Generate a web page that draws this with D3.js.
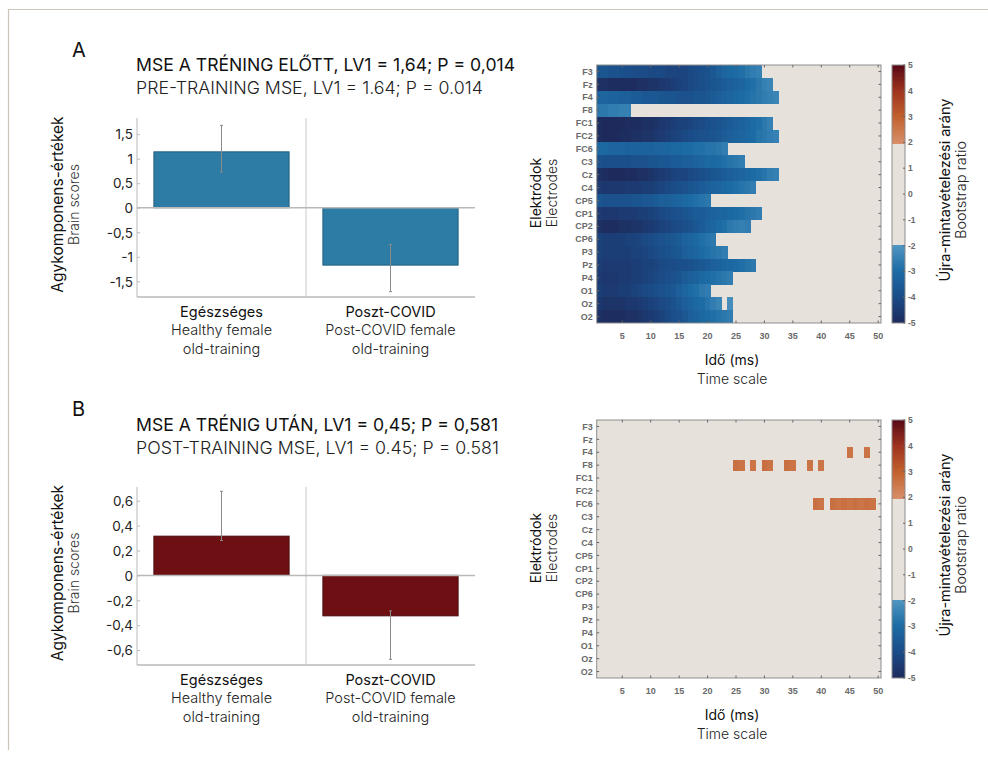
<!DOCTYPE html>
<html><head><meta charset="utf-8">
<script src="https://cdn.jsdelivr.net/npm/d3@7"></script>
<style>
body{margin:0;background:#fff;}
svg{display:block;font-family:Inter,"Noto Sans",sans-serif;}
</style></head>
<body><svg id="c" width="988" height="758"></svg>
<script>
// ---------- DATA ----------
const groupsHu = ["Egészséges", "Poszt-COVID"];
const groupsEn = ["Healthy female", "Post-COVID female"];
const groupsEn2 = ["old-training", "old-training"];

const preScores = [1.14, -1.17];
const preErrHigh = [1.68, -0.75];
const preErrLow = [0.73, -1.71];
const preTicks = [-1.5, -1, -0.5, 0, 0.5, 1, 1.5];

const postScores = [0.315, -0.325];
const postErrHigh = [0.675, -0.285];
const postErrLow = [0.28, -0.675];
const postTicks = [-0.6, -0.4, -0.2, 0, 0.2, 0.4, 0.6];

const electrodes = ["F3","Fz","F4","F8","FC1","FC2","FC6","C3","Cz","C4","CP5","CP1","CP2","CP6","P3","Pz","P4","O1","Oz","O2"];
const timeScales = d3.range(1, 51);
const timeTicks = [5,10,15,20,25,30,35,40,45,50];
const cbarTicks = [5,4,3,2,1,0,-1,-2,-3,-4,-5];

// bootstrap ratios before training, per electrode, scales 1..n (0 = not reliable)
const preRatios = [
 [-3.7,-3.7,-3.8,-3.8,-3.9,-3.9,-4.0,-4.0,-4.0,-4.1,-4.1,-4.1,-4.2,-4.2,-4.2,-4.2,-4.1,-4.0,-3.9,-3.8,-3.6,-3.4,-3.2,-3.1,-3.0,-2.9,-2.7,-2.6,-2.5],
 [-4.8,-4.8,-4.9,-4.9,-4.9,-4.9,-4.9,-4.8,-4.8,-4.7,-4.7,-4.6,-4.5,-4.4,-4.3,-4.2,-4.1,-4.0,-3.9,-3.8,-3.7,-3.6,-3.5,-3.4,-3.3,-3.2,-3.0,-2.9,-2.7,-2.5,-2.4],
 [-3.2,-3.2,-3.3,-3.3,-3.4,-3.4,-3.5,-3.5,-3.6,-3.6,-3.6,-3.7,-3.7,-3.7,-3.8,-3.8,-3.8,-3.7,-3.7,-3.6,-3.5,-3.4,-3.3,-3.2,-3.1,-3.0,-2.9,-2.8,-2.7,-2.6,-2.5,-2.4],
 [-2.7,-2.7,-2.6,-2.6,-2.5,-2.5],
 [-4.9,-5.0,-5.0,-5.0,-5.0,-4.9,-4.9,-4.9,-4.8,-4.8,-4.7,-4.6,-4.5,-4.4,-4.3,-4.3,-4.2,-4.1,-4.0,-3.9,-3.8,-3.7,-3.6,-3.5,-3.4,-3.3,-3.2,-3.0,-2.9,-2.7,-2.5],
 [-4.9,-5.0,-5.0,-5.0,-4.9,-4.9,-4.8,-4.8,-4.7,-4.7,-4.6,-4.5,-4.4,-4.3,-4.2,-4.1,-4.0,-3.9,-3.8,-3.8,-3.7,-3.6,-3.5,-3.4,-3.3,-3.2,-3.1,-3.0,-2.8,-2.7,-2.6,-2.5],
 [-3.1,-3.1,-3.2,-3.2,-3.2,-3.3,-3.3,-3.3,-3.3,-3.3,-3.2,-3.2,-3.2,-3.1,-3.1,-3.0,-3.0,-2.9,-2.9,-2.8,-2.8,-2.7,-2.6],
 [-3.8,-3.9,-3.9,-3.9,-3.9,-3.9,-3.8,-3.8,-3.8,-3.7,-3.7,-3.6,-3.6,-3.5,-3.5,-3.4,-3.4,-3.3,-3.2,-3.1,-3.1,-3.0,-2.9,-2.8,-2.7,-2.6],
 [-4.8,-4.9,-5.0,-5.0,-5.0,-4.9,-4.9,-4.8,-4.8,-4.7,-4.6,-4.5,-4.4,-4.3,-4.2,-4.2,-4.1,-4.0,-3.9,-3.8,-3.7,-3.6,-3.5,-3.4,-3.3,-3.2,-3.1,-3.0,-2.9,-2.8,-2.6,-2.5],
 [-4.5,-4.6,-4.6,-4.6,-4.6,-4.5,-4.5,-4.5,-4.4,-4.4,-4.3,-4.2,-4.1,-4.0,-3.9,-3.8,-3.7,-3.6,-3.5,-3.4,-3.3,-3.2,-3.1,-3.0,-2.9,-2.8,-2.7,-2.6],
 [-3.7,-3.8,-3.8,-3.8,-3.8,-3.8,-3.7,-3.7,-3.6,-3.6,-3.5,-3.4,-3.4,-3.3,-3.2,-3.1,-3.0,-2.9,-2.8,-2.7],
 [-4.5,-4.6,-4.6,-4.6,-4.5,-4.5,-4.5,-4.4,-4.4,-4.3,-4.2,-4.1,-4.0,-3.9,-3.8,-3.7,-3.6,-3.5,-3.5,-3.4,-3.3,-3.2,-3.2,-3.1,-3.0,-2.9,-2.8,-2.7,-2.6],
 [-4.8,-4.9,-4.9,-4.9,-4.8,-4.8,-4.7,-4.7,-4.6,-4.5,-4.4,-4.3,-4.2,-4.1,-4.0,-3.9,-3.8,-3.6,-3.5,-3.3,-3.2,-3.0,-2.9,-2.7,-2.6,-2.5,-2.6],
 [-4.3,-4.4,-4.4,-4.4,-4.4,-4.3,-4.3,-4.2,-4.1,-4.0,-3.9,-3.8,-3.7,-3.6,-3.5,-3.3,-3.2,-3.1,-2.9,-2.8,-2.7],
 [-4.3,-4.4,-4.4,-4.4,-4.4,-4.4,-4.3,-4.3,-4.2,-4.1,-4.0,-3.9,-3.8,-3.7,-3.6,-3.4,-3.3,-3.2,-3.0,-2.9,-2.8,-2.7,-2.6],
 [-4.4,-4.5,-4.5,-4.5,-4.5,-4.5,-4.4,-4.4,-4.3,-4.3,-4.2,-4.1,-4.0,-4.0,-3.9,-3.9,-3.8,-3.7,-3.6,-3.5,-3.4,-3.3,-3.2,-3.1,-3.0,-2.9,-2.8,-2.7],
 [-4.5,-4.6,-4.6,-4.6,-4.5,-4.5,-4.4,-4.4,-4.3,-4.2,-4.1,-4.0,-3.9,-3.8,-3.7,-3.5,-3.4,-3.3,-3.1,-3.0,-2.9,-2.8,-2.7,-2.6],
 [-4.4,-4.5,-4.5,-4.5,-4.4,-4.4,-4.3,-4.2,-4.1,-4.0,-3.9,-3.8,-3.7,-3.6,-3.4,-3.2,-3.0,-2.9,-2.7,-2.6],
 [-4.6,-4.7,-4.7,-4.7,-4.7,-4.6,-4.6,-4.5,-4.4,-4.3,-4.2,-4.1,-4.0,-3.8,-3.6,-3.4,-3.3,-3.1,-3.0,-2.8,-2.6,-2.4,0,-2.2],
 [-4.8,-4.9,-4.9,-4.9,-4.9,-4.8,-4.8,-4.7,-4.6,-4.5,-4.4,-4.3,-4.1,-3.9,-3.8,-3.6,-3.4,-3.3,-3.1,-3.0,-2.9,-2.8,-2.7,-2.6]
];

// bootstrap ratios after training: only reliable cells [electrode, scale, ratio]
const postCells = [
 ["F4",45,2.6],["F4",48,2.6],
 ["F8",25,2.7],["F8",26,2.6],["F8",28,2.6],["F8",30,2.7],["F8",31,2.6],["F8",34,2.7],["F8",35,2.6],["F8",38,2.6],["F8",40,2.6],
 ["FC6",39,2.7],["FC6",40,2.6],["FC6",42,2.7],["FC6",43,2.6],["FC6",44,2.7],["FC6",45,2.6],["FC6",46,2.7],["FC6",47,2.6],["FC6",48,2.7],["FC6",49,2.6]
];

// ---------- STYLE ----------
const grayCell = "#e7e1dc";
const negColor = d3.scaleLinear().domain([-5,-4,-3,-2]).range(["#1e2a5c","#1b4c88","#1c6ba4","#5096c2"]).clamp(true);
const posColor = d3.scaleLinear().domain([2,3,4,5]).range(["#d78f6a","#c2622f","#a03520","#5a0a16"]).clamp(true);
function ratioColor(v){ if (v <= -2) return negColor(v); if (v >= 2) return posColor(v); return grayCell; }
const fmtComma = v => String(v).replace(".", ",");

const svg = d3.select("#c");

// frame
svg.append("line").attr("x1",8).attr("x2",988).attr("y1",9.5).attr("y2",9.5).attr("stroke","#cbc4ba").attr("stroke-width",1.2);
svg.append("line").attr("x1",8.5).attr("x2",8.5).attr("y1",9).attr("y2",750).attr("stroke","#cbc4ba").attr("stroke-width",1.2);

// ---------- BAR PANEL ----------
function barPanel(opt){
  const g = svg.append("g");
  g.append("text").attr("x",72).attr("y",opt.letterY).attr("font-size",20).attr("font-weight",400).attr("fill","#111").text(opt.letter);
  g.append("text").attr("x",136).attr("y",opt.t1Y).attr("font-size",17.6).attr("font-weight",400).attr("fill","#111").text(opt.title1);
  g.append("text").attr("x",136).attr("y",opt.t1Y+23.5).attr("font-size",17.8).attr("font-weight",300).attr("fill","#222").text(opt.title2);

  const x = d3.scaleBand().domain(groupsHu).range([137,475]).paddingInner(0.2).paddingOuter(0.1);
  const y = d3.scaleLinear().domain(opt.domain).range([opt.bottom, opt.top]);
  const axisCol = "#b9b9b9";
  g.append("line").attr("x1",137).attr("x2",137).attr("y1",opt.top).attr("y2",opt.bottom).attr("stroke",axisCol);
  g.append("line").attr("x1",137).attr("x2",475).attr("y1",opt.bottom).attr("y2",opt.bottom).attr("stroke",axisCol).attr("stroke-width",1.5);
  g.append("line").attr("x1",137+x.step()).attr("x2",137+x.step()).attr("y1",opt.top).attr("y2",opt.bottom).attr("stroke","#c8c8c8");
  g.selectAll("rect.bar").data(opt.scores).join("rect")
    .attr("x",(d,i)=>x(groupsHu[i])).attr("width",x.bandwidth())
    .attr("y",d=>y(Math.max(0,d))).attr("height",d=>Math.abs(y(d)-y(0)))
    .attr("fill",opt.fill).attr("stroke",opt.stroke).attr("stroke-width",1);
  g.append("line").attr("x1",137).attr("x2",475).attr("y1",y(0)).attr("y2",y(0)).attr("stroke",axisCol).attr("stroke-width",1.5);
  opt.scores.forEach((d,i)=>{
    const cx = x(groupsHu[i]) + x.bandwidth()/2;
    g.append("line").attr("x1",cx).attr("x2",cx).attr("y1",y(opt.hi[i])).attr("y2",y(opt.lo[i])).attr("stroke","#8a8a8a").attr("stroke-width",1);
    [opt.hi[i],opt.lo[i]].forEach(v=>g.append("line").attr("x1",cx-1.5).attr("x2",cx+1.5).attr("y1",y(v)).attr("y2",y(v)).attr("stroke","#8a8a8a"));
  });
  const yAxis = d3.axisLeft(y).tickValues(opt.ticks).tickFormat(fmtComma).tickSize(-3).tickPadding(4);
  const ya = g.append("g").attr("transform","translate(137,0)").call(yAxis);
  ya.select(".domain").remove();
  ya.selectAll("line").attr("stroke",axisCol);
  ya.selectAll("text").attr("font-size",13.5).attr("fill","#222").attr("font-family","Inter,sans-serif").attr("dy","0.35em").attr("x",-4);
  const cy = (opt.top+opt.bottom)/2 - 3;
  g.append("text").attr("transform",`translate(63,${cy}) rotate(-90)`).attr("text-anchor","middle").attr("font-size",15.5).attr("font-weight",400).attr("fill","#111").text("Agykomponens-értékek");
  g.append("text").attr("transform",`translate(79,${cy}) rotate(-90)`).attr("text-anchor","middle").attr("font-size",14).attr("font-weight",300).attr("fill","#333").text("Brain scores");
  groupsHu.forEach((gr,i)=>{
    const cx = x(gr) + x.bandwidth()/2;
    g.append("text").attr("x",cx).attr("y",opt.bottom+19.5).attr("text-anchor","middle").attr("font-size",14.5).attr("font-weight",400).attr("fill","#111").text(gr);
    g.append("text").attr("x",cx).attr("y",opt.bottom+38).attr("text-anchor","middle").attr("font-size",14.5).attr("font-weight",300).attr("fill","#222").text(groupsEn[i]);
    g.append("text").attr("x",cx).attr("y",opt.bottom+57).attr("text-anchor","middle").attr("font-size",14.5).attr("font-weight",300).attr("fill","#222").text(groupsEn2[i]);
  });
}

barPanel({letter:"A", letterY:57, t1Y:70.5, title1:"MSE A TRÉNING ELŐTT, LV1 = 1,64; P = 0,014", title2:"PRE-TRAINING MSE, LV1 = 1.64; P = 0.014",
  top:118, bottom:297, domain:[-1.82,1.83], ticks:preTicks, scores:preScores, hi:preErrHigh, lo:preErrLow, fill:"#2d7ca5", stroke:"#225f80"});
barPanel({letter:"B", letterY:416, t1Y:430.5, title1:"MSE A TRÉNIG UTÁN, LV1 = 0,45; P = 0,581", title2:"POST-TRAINING MSE, LV1 = 0.45; P = 0.581",
  top:487, bottom:665, domain:[-0.72,0.71], ticks:postTicks, scores:postScores, hi:postErrHigh, lo:postErrLow, fill:"#6e1013", stroke:"#4d0a0c"});

// ---------- HEATMAP PANEL ----------
function heatPanel(opt){
  const g = svg.append("g");
  const left = 596.7, right = 881, top = opt.top, bottom = opt.top + 258;
  const x = d3.scaleBand().domain(timeScales).range([left,right]);
  const y = d3.scaleBand().domain(electrodes).range([top,bottom]);
  g.append("rect").attr("x",left).attr("y",top).attr("width",right-left).attr("height",bottom-top).attr("fill",grayCell);
  g.selectAll("rect.cell").data(opt.cells).join("rect").attr("class","cell")
    .attr("x",d=>x(d.s)).attr("y",d=>y(d.e)+opt.inset).attr("width",x.bandwidth()+0.3).attr("height",y.bandwidth()+0.3-2*opt.inset)
    .attr("fill",d=>ratioColor(d.v)).attr("shape-rendering","crispEdges");
  g.append("rect").attr("x",left).attr("y",top).attr("width",right-left).attr("height",bottom-top).attr("fill","none").attr("stroke","#8d8d8d").attr("stroke-width",1);
  const tickCol = "#666";
  timeTicks.forEach(t=>{
    const cx = x(t)+x.bandwidth()/2;
    g.append("line").attr("x1",cx).attr("x2",cx).attr("y1",bottom).attr("y2",bottom-2.5).attr("stroke",tickCol);
    g.append("line").attr("x1",cx).attr("x2",cx).attr("y1",top).attr("y2",top+2.5).attr("stroke",tickCol);
    g.append("text").attr("x",cx).attr("y",bottom+15.5).attr("text-anchor","middle").attr("font-family","'Liberation Sans',Arial,sans-serif").attr("font-size",9).attr("font-weight",700).attr("fill","#6a6a6a").text(t);
  });
  electrodes.forEach(e=>{
    const cy = y(e)+y.bandwidth()/2;
    g.append("line").attr("x1",left).attr("x2",left+2.5).attr("y1",cy).attr("y2",cy).attr("stroke",tickCol);
    g.append("line").attr("x1",right).attr("x2",right-2.5).attr("y1",cy).attr("y2",cy).attr("stroke",tickCol);
    g.append("text").attr("x",left-4).attr("y",cy).attr("dy","0.35em").attr("text-anchor","end").attr("font-family","'Liberation Sans',Arial,sans-serif").attr("font-size",9).attr("font-weight",700).attr("fill","#6a6a6a").text(e);
  });
  const midY = (top+bottom)/2 - 1;
  g.append("text").attr("transform",`translate(541,${midY}) rotate(-90)`).attr("text-anchor","middle").attr("font-size",14).attr("font-weight",400).attr("fill","#111").text("Elektródok");
  g.append("text").attr("transform",`translate(557,${midY}) rotate(-90)`).attr("text-anchor","middle").attr("font-size",14).attr("font-weight",300).attr("fill","#222").text("Electrodes");
  g.append("text").attr("x",732).attr("y",bottom+42).attr("text-anchor","middle").attr("font-size",14).attr("font-weight",400).attr("fill","#111").text("Idő (ms)");
  g.append("text").attr("x",732).attr("y",bottom+61).attr("text-anchor","middle").attr("font-size",14).attr("font-weight",300).attr("fill","#222").text("Time scale");
  const cbL = 892, cbW = 13;
  const cy = d3.scaleLinear().domain([-5,5]).range([bottom,top]);
  const steps = d3.range(-5,5,0.05);
  g.selectAll("rect.cb").data(steps).join("rect").attr("class","cb")
    .attr("x",cbL).attr("width",cbW).attr("y",d=>cy(d+0.05)).attr("height",cy(0)-cy(0.05)+0.4)
    .attr("fill",d=>ratioColor(d<0? d : d+0.05)).attr("shape-rendering","crispEdges");
  g.append("rect").attr("x",cbL).attr("y",top).attr("width",cbW).attr("height",bottom-top).attr("fill","none").attr("stroke","#8d8d8d");
  cbarTicks.forEach(t=>{
    g.append("line").attr("x1",cbL+cbW).attr("x2",cbL+cbW-2).attr("y1",cy(t)).attr("y2",cy(t)).attr("stroke",tickCol);
    g.append("text").attr("x",cbL+cbW+3).attr("y",cy(t)).attr("dy","0.35em").attr("font-family","'Liberation Sans',Arial,sans-serif").attr("font-size",8.5).attr("font-weight",700).attr("fill","#6a6a6a").text(t);
  });
  g.append("text").attr("transform",`translate(950,${midY-3}) rotate(-90)`).attr("text-anchor","middle").attr("font-size",14.5).attr("font-weight",400).attr("fill","#111").text("Újra-mintavételezési arány");
  g.append("text").attr("transform",`translate(966,${midY-3}) rotate(-90)`).attr("text-anchor","middle").attr("font-size",14.5).attr("font-weight",300).attr("fill","#222").text("Bootstrap ratio");
}

const preCells = [];
preRatios.forEach((row,i)=>row.forEach((v,j)=>{ if (Math.abs(v)>=2) preCells.push({e:electrodes[i], s:timeScales[j], v:v}); }));
heatPanel({top:65, cells:preCells, inset:0});
const postCellObjs = postCells.map(d=>({e:d[0], s:d[1], v:d[2]}));
heatPanel({top:420, cells:postCellObjs, inset:1});
</script></body></html>
